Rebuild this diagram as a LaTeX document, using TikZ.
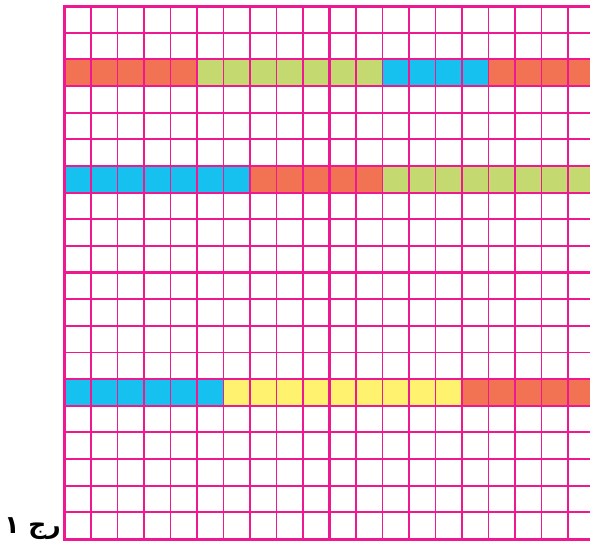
\documentclass[tikz,border=0pt]{standalone}
\usepackage{fontspec}
\newfontfamily\arabicfont[Script=Arabic]{DejaVu Sans}
\TeXXeTstate=1
\definecolor{gridpink}{RGB}{238,24,145}
\definecolor{cred}{RGB}{242,114,84}
\definecolor{cgreen}{RGB}{196,217,112}
\definecolor{cblue}{RGB}{22,193,240}
\definecolor{cyellow}{RGB}{255,242,110}
\newcommand\cellrun[4]{\fill[#4] ({64.5+#2*26.5},{6+#1*26.65}) rectangle ({64.5+#3*26.5},{6+(#1+1)*26.65});}
\tikzset{
  thinline/.style={draw=gridpink, line width=1.9pt},
  thickline/.style={draw=gridpink, line width=3pt},
  labeltext/.style={font=\arabicfont\bfseries\fontsize{25}{30}\selectfont, inner sep=0pt}
}
\begin{document}
\begin{tikzpicture}[x=1pt,y=-1pt]
\useasboundingbox (0,0) rectangle (590,546);
\fill[white] (0,0) rectangle (590,546);
\begin{scope}
\clip (0,0) rectangle (590,546);
% row 3
\cellrun{2}{0}{5}{cred}
\cellrun{2}{5}{12}{cgreen}
\cellrun{2}{12}{16}{cblue}
\cellrun{2}{16}{20}{cred}
% row 7
\cellrun{6}{0}{7}{cblue}
\cellrun{6}{7}{12}{cred}
\cellrun{6}{12}{20}{cgreen}
% row 15
\cellrun{14}{0}{6}{cblue}
\cellrun{14}{6}{15}{cyellow}
\cellrun{14}{15}{20}{cred}
% thin lines
\foreach \i in {1,...,20} {
  \draw[thinline] ({64.5+\i*26.5},6) -- ({64.5+\i*26.5},{6+20*26.65});
  \draw[thinline] (64.5,{6+\i*26.65}) -- (600,{6+\i*26.65});
}
% thick lines
\foreach \i in {0,10} {
  \draw[thickline] ({64.5+\i*26.5},4.5) -- ({64.5+\i*26.5},{6+20*26.65+1.5});
}
\foreach \j in {0,10,20} {
  \draw[thickline] (63,{6+\j*26.65}) -- (600,{6+\j*26.65});
}
\end{scope}
\node[labeltext, anchor=base east] (label) at (61,533) {\beginR رج ۱\endR};
\end{tikzpicture}
\end{document}
